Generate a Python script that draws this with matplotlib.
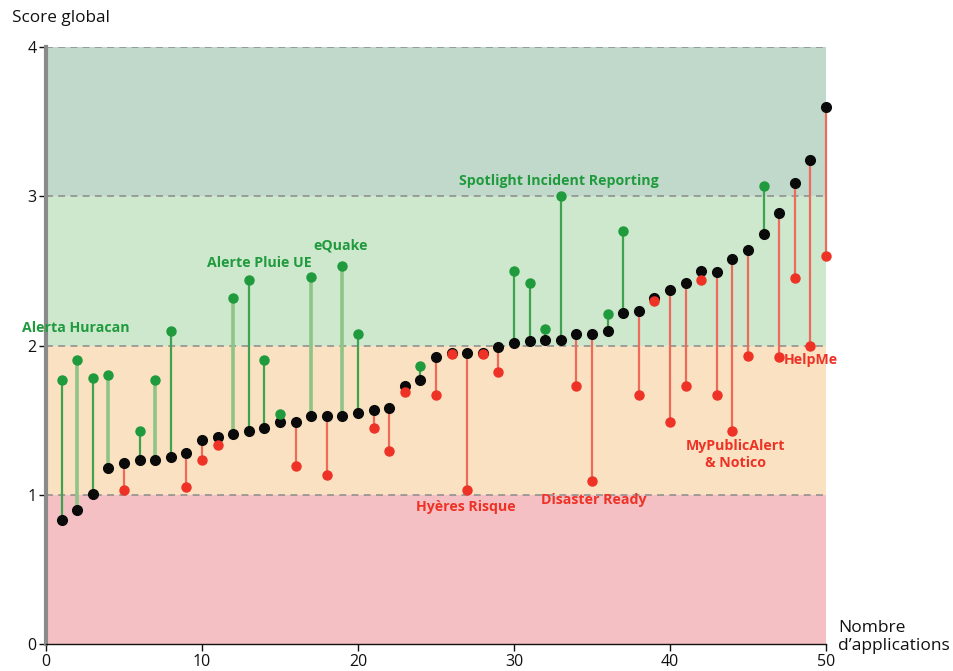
import matplotlib
matplotlib.use("Agg")
import matplotlib.pyplot as plt
import numpy as np

plt.rcParams['font.family'] = ['Open Sans', 'DejaVu Sans']

# Applications ranked by global score
app_rank = list(range(1, 51))
score_global = [0.83, 0.90, 1.005, 1.18, 1.21, 1.23, 1.23, 1.25, 1.28, 1.37,
                1.39, 1.405, 1.43, 1.45, 1.49, 1.49, 1.53, 1.53, 1.53, 1.545,
                1.57, 1.58, 1.73, 1.77, 1.92, 1.95, 1.95, 1.95, 1.99, 2.02,
                2.03, 2.04, 2.04, 2.08, 2.08, 2.10, 2.22, 2.23, 2.32, 2.37,
                2.42, 2.50, 2.49, 2.58, 2.64, 2.75, 2.89, 3.09, 3.24, 3.60]
score_other = [1.77, 1.90, 1.78, 1.80, 1.03, 1.43, 1.77, 2.10, 1.05, 1.23,
               1.33, 2.32, 2.44, 1.90, 1.54, 1.19, 2.46, 1.13, 2.535, 2.08,
               1.45, 1.29, 1.69, 1.86, 1.67, 1.94, 1.03, 1.94, 1.82, 2.50,
               2.42, 2.11, 3.00, 1.73, 1.09, 2.21, 2.77, 1.67, 2.30, 1.49,
               1.73, 2.44, 1.67, 1.43, 1.93, 3.07, 1.92, 2.45, 2.00, 2.60]
pale_links = [2, 4, 7, 12, 17, 19]

# Named applications
green_names = ["Alerta Huracan", "Alerte Pluie UE", "eQuake",
               "Spotlight Incident Reporting"]
green_pos = [(1.9, 2.12), (13.67, 2.55), (18.87, 2.67), (32.9, 3.10)]
red_names = ["Hyères Risque", "Disaster Ready", "MyPublicAlert\n& Notico", "HelpMe"]
red_pos = [(26.9, 0.92), (35.1, 0.965), (44.2, 1.27), (47.3, 1.90)]

bands = [(0, 1, '#f5c0c3'), (1, 2, '#fae1c1'), (2, 3, '#cde8cd'), (3, 4, '#c1d9cb')]
GREEN = '#1f9a3c'
GREEN_LINE = '#3ea24f'
GREEN_PALE = '#8ec486'
RED = '#ee3226'
RED_LINE = '#ee6b5c'

fig = plt.figure(figsize=(9.54, 6.71), dpi=100)
ax = fig.add_axes([46/954, 27/671, 780/954, 597/671])
ax.set_xlim(0, 50)
ax.set_ylim(0, 4)

for lo, hi, c in bands:
    ax.axhspan(lo, hi, color=c, lw=0, zorder=0)
for yv in [1, 2, 3, 4]:
    ax.axhline(yv, color='#8a8a8a', lw=1.1, ls=(0, (4.5, 3.5)), zorder=1)

for x, g, o in zip(app_rank, score_global, score_other):
    if o >= g:
        lc = GREEN_PALE if x in pale_links else GREEN_LINE
        lw = 2.6 if x in pale_links else 1.6
        dc = GREEN
    else:
        lc, lw, dc = RED_LINE, 1.6, RED
    ax.plot([x, x], [g, o], color=lc, lw=lw, zorder=2, clip_on=False,
            solid_capstyle='butt')
    ax.plot(x, g, 'o', color='#0a0a0a', ms=7, zorder=3, clip_on=False)
    ax.plot(x, o, 'o', color=dc, ms=6.5, zorder=4, clip_on=False)

for name, (x, y) in zip(green_names, green_pos):
    ax.text(x, y, name, color=GREEN, fontsize=10.2, fontweight='bold',
            ha='center', va='center', zorder=5, clip_on=False)
for name, (x, y) in zip(red_names, red_pos):
    ha = 'left' if name == 'HelpMe' else 'center'
    ax.text(x, y, name, color=RED, fontsize=10.2, fontweight='bold',
            ha=ha, va='center', zorder=5, clip_on=False, linespacing=1.2)

for s in ['top', 'right']:
    ax.spines[s].set_visible(False)
ax.spines['left'].set_color('#8a8a8a')
ax.spines['left'].set_linewidth(3)
ax.spines['bottom'].set_color('#111111')
ax.spines['bottom'].set_linewidth(1.0)

ax.set_xticks([0, 10, 20, 30, 40, 50])
ax.set_yticks([0, 1, 2, 3, 4])
ax.tick_params(axis='both', labelsize=11.5, colors='#111111', length=5, width=1,
               pad=2)

fig.text(12/954, 1 - 18/671, "Score global", fontsize=12.3, ha='left', va='center',
         color='#111111')
fig.text(838/954, 1 - 637/671, "Nombre\nd\u2019applications", fontsize=12.5,
         ha='left', va='center', color='#111111', linespacing=1.1)

fig.savefig("out.png", dpi=100)
